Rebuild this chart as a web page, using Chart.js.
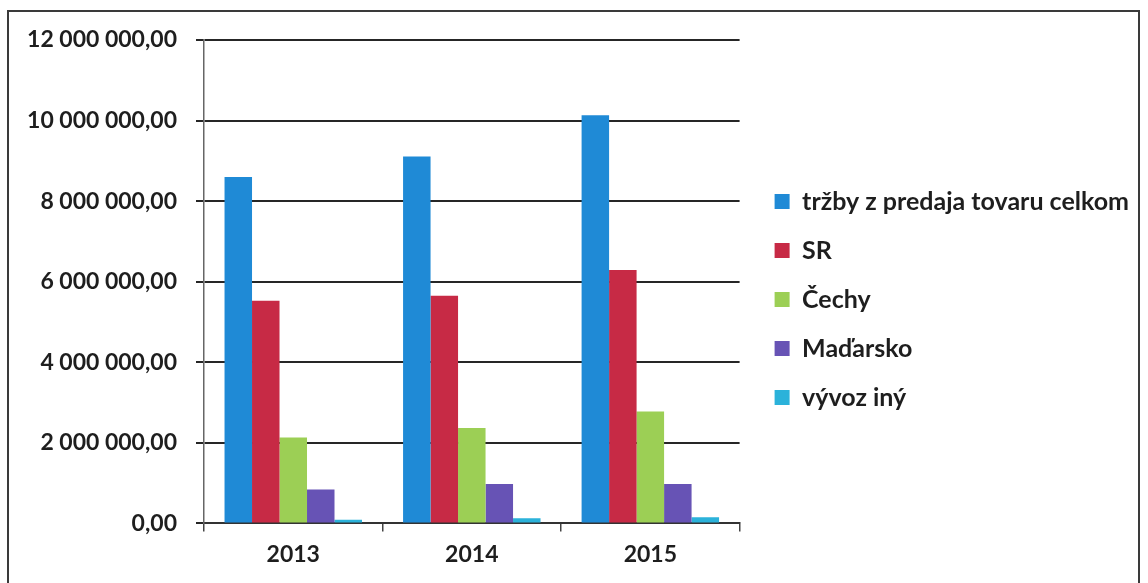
<!DOCTYPE html>
<html>
<head>
<meta charset="utf-8">
<script src="https://cdn.jsdelivr.net/npm/chart.js@4"></script>
<style>
  html, body { margin: 0; padding: 0; background: #fff; }
  #wrap { position: relative; width: 1148px; height: 583px; overflow: hidden; }
  #frame {
    position: absolute; left: 7px; top: 10px; width: 1129px; height: 600px;
    border: 2px solid #3a3a3a; pointer-events: none;
  }
</style>
</head>
<body>
<div id="wrap">
  <canvas id="salesChart" width="1148" height="583"></canvas>
  <div id="frame"></div>
</div>
<script>
// values
const years = ['2013', '2014', '2015'];
const seriesNames = ['tržby z predaja tovaru celkom', 'SR', 'Čechy', 'Maďarsko', 'vývoz iný'];
const totalSales = [8600000, 9110000, 10130000];
const salesSR = [5530000, 5650000, 6290000];
const salesCechy = [2130000, 2370000, 2780000];
const salesMadarsko = [840000, 980000, 980000];
const salesOther = [90000, 130000, 150000];
const yTicks = [0, 2000000, 4000000, 6000000, 8000000, 10000000, 12000000];

const colors = ['#1f8ad6', '#c72a45', '#9ccf55', '#6753b5', '#2bb2da'];
const seriesData = [totalSales, salesSR, salesCechy, salesMadarsko, salesOther];

const labelFont = { family: 'Lato', weight: 'bold', size: 23 };
const legendFont = { family: 'Lato', weight: 'bold', size: 25 };

// "12 000 000,00"
function formatNum(v) {
    return String(Math.round(v)).replace(/\B(?=(\d{3})+(?!\d))/g, ' ') + ',00';
}

// legend sits a few px higher than its centered spot
const nudgeLegend = {
    id: 'nudgeLegend',
    afterLayout(chart) {
        chart.legend.top -= 9;
        chart.legend.bottom -= 9;
    }
};

const ctx = document.getElementById('salesChart').getContext('2d');

new Chart(ctx, {
    type: 'bar',
    data: {
        labels: years,
        datasets: seriesNames.map((name, i) => ({
            label: name,
            data: seriesData[i],
            backgroundColor: colors[i],
            borderWidth: 0,
            categoryPercentage: 0.77,
            barPercentage: 1
        }))
    },
    plugins: [nudgeLegend],
    options: {
        responsive: false,
        animation: false,
        layout: { padding: { top: 40, right: 9, bottom: 6, left: 0 } },
        plugins: {
            tooltip: { enabled: false },
            legend: {
                position: 'right',
                align: 'center',
                maxWidth: 440,
                labels: {
                    boxWidth: 15,
                    boxHeight: 15,
                    padding: 24,
                    color: '#1e1e1e',
                    font: legendFont
                }
            }
        },
        scales: {
            x: {
                grid: {
                    offset: true,
                    drawOnChartArea: false,
                    drawTicks: true,
                    tickLength: 8,
                    color: '#444',
                    lineWidth: 1.5
                },
                border: { display: true, color: '#333', width: 2 },
                ticks: { color: '#1e1e1e', font: labelFont, padding: 9 }
            },
            y: {
                min: 0,
                max: 12000000,
                afterFit: (scale) => { scale.width = 204; },
                afterBuildTicks: (scale) => { scale.ticks = yTicks.map(v => ({ value: v })); },
                grid: { color: '#262626', lineWidth: 2, tickLength: 8 },
                border: { display: true, color: '#666', width: 1.5 },
                ticks: {
                    color: '#1e1e1e',
                    font: labelFont,
                    padding: 19,
                    callback: (v) => formatNum(v)
                }
            },
            // empty axis, only keeps a gap between plot and legend
            gap: {
                type: 'linear',
                axis: 'y',
                position: 'right',
                afterFit: (scale) => { scale.width = 11; },
                grid: { display: false },
                border: { display: false },
                ticks: { display: false }
            }
        }
    }
});
</script>
</body>
</html>
